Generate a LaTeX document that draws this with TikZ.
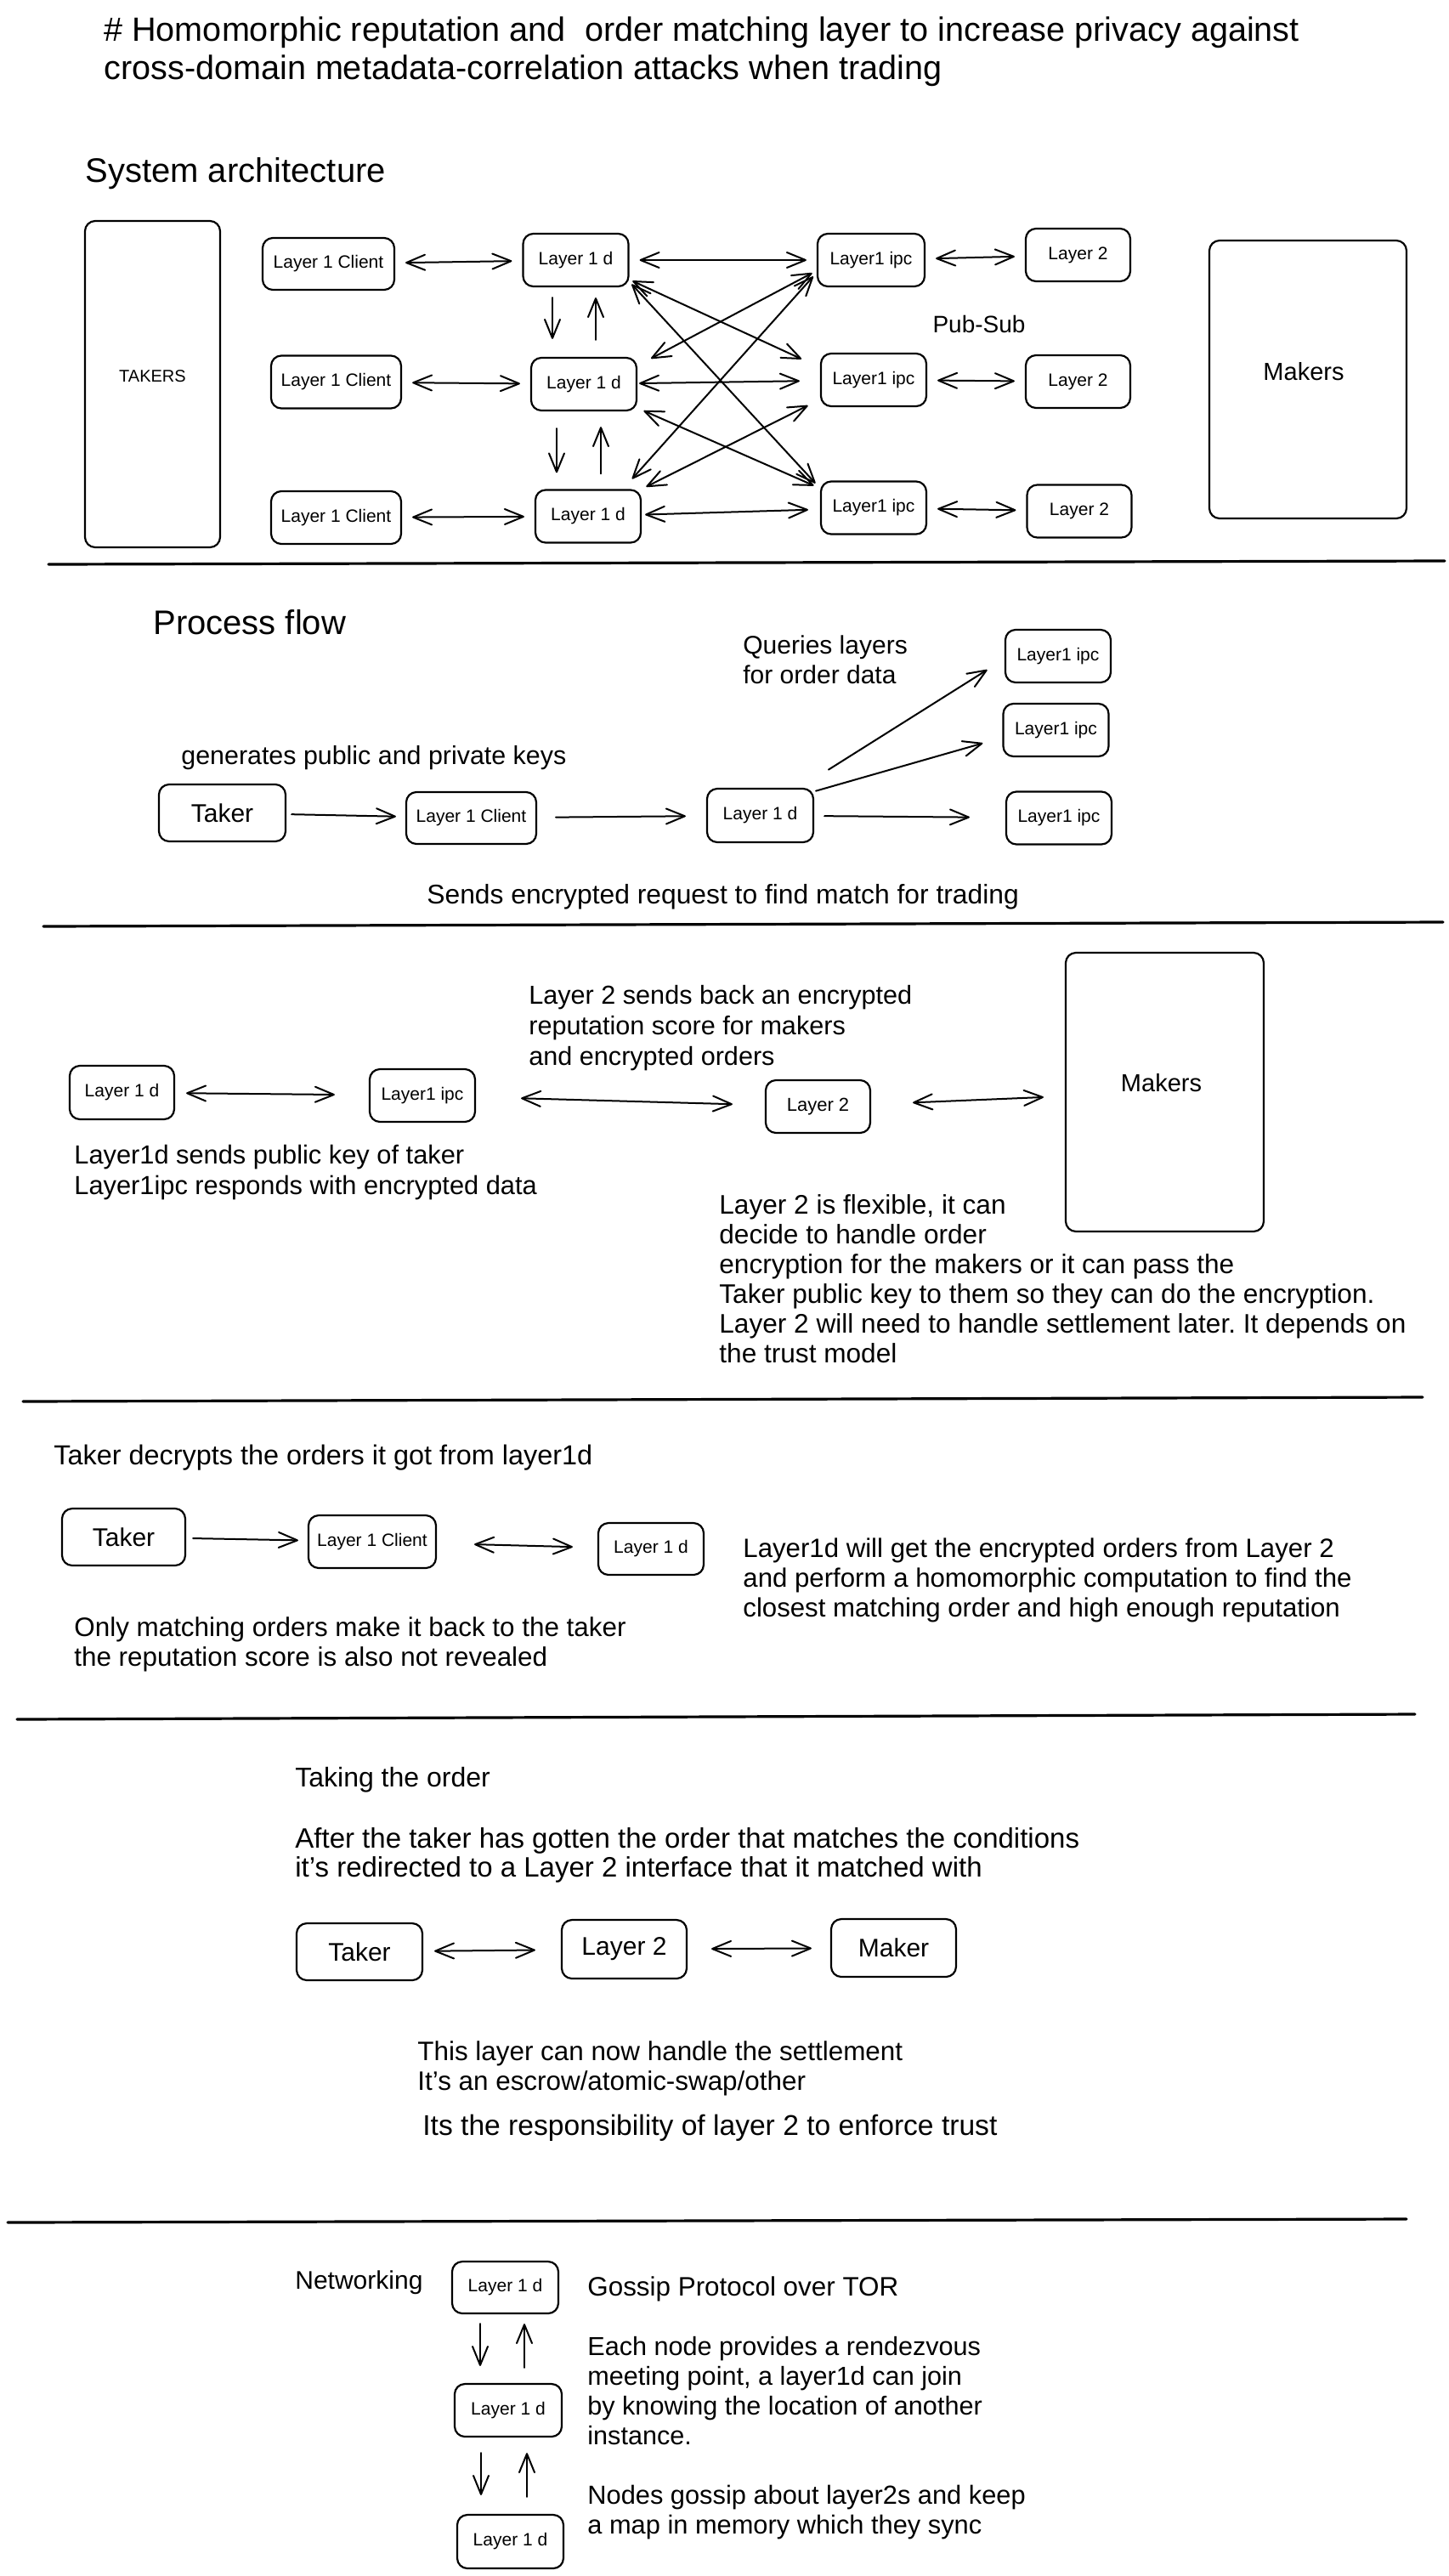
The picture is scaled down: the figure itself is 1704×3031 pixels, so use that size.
\documentclass[tikz,border=0pt]{standalone}
\usepackage{fontspec}
\setmainfont{Liberation Sans}
\usetikzlibrary{arrows.meta}
\frenchspacing
\newcommand{\fs}[1]{\fontsize{#1}{17.5pt}\selectfont}
\begin{document}
\begin{tikzpicture}[x=0.5pt,y=-0.5pt,
  >={Straight Barb[length=11pt,width=9pt,round]},
  bx/.style={draw, line width=1.1pt, rounded corners=6pt, inner sep=0pt, align=center},
  sm/.style={bx, minimum width=62pt, minimum height=31pt, font=\fontsize{10.5pt}{12pt}\selectfont},
  big/.style={bx, minimum width=74pt, minimum height=33.5pt, font=\fontsize{15pt}{18pt}\selectfont},
  txt/.style={anchor=north west, inner sep=0pt, align=left, font=\fs{15pt}},
  head/.style={anchor=north west, inner sep=0pt, align=left, font=\fontsize{20pt}{24pt}\selectfont},
  arr/.style={line width=1pt, line cap=round, ->, shorten >=6pt, shorten <=6pt},
  dbl/.style={arr, <->},
  sep/.style={line width=1.6pt, line cap=round},
]
\useasboundingbox[fill=white] (0,0) rectangle (1704,3031);

% ---------------- title
\node[anchor=north west, inner sep=0pt, align=left, font=\fontsize{19.8pt}{22.5pt}\selectfont] (title) at (122,19)
  {\# Homomorphic reputation and\ \ order matching layer to increase privacy against\\cross-domain metadata-correlation attacks when trading};

% ---------------- section 1: system architecture
\node[head] (sysarch) at (100,185) {System architecture};

\node[bx, minimum width=79.5pt, minimum height=192pt, font=\fontsize{10pt}{12pt}\selectfont] (takers) at (179.5,452) {\raisebox{9pt}{TAKERS}};
\node[sm, minimum width=77.5pt, minimum height=30.5pt] (c1) at (386.5,310.5) {Layer 1 Client};
\node[sm, minimum width=76.5pt] (c2) at (395.5,449.5) {Layer 1 Client};
\node[sm, minimum width=76.5pt] (c3) at (395.5,609) {Layer 1 Client};
\node[sm] (d1) at (677.5,306) {Layer 1 d};
\node[sm] (d2) at (687,452) {Layer 1 d};
\node[sm] (d3) at (692,607.5) {Layer 1 d};
\node[sm, minimum width=63pt] (i1) at (1025,306) {Layer1 ipc};
\node[sm] (i2) at (1028,447) {Layer1 ipc};
\node[sm] (i3) at (1028,597.5) {Layer1 ipc};
\node[sm, minimum width=61.5pt] (l1) at (1268.5,300) {Layer 2};
\node[sm, minimum width=61.5pt] (l2) at (1268.5,449) {Layer 2};
\node[sm, minimum width=61.5pt] (l3) at (1270,601.5) {Layer 2};
\node[bx, minimum width=116pt, minimum height=163.5pt, font=\fontsize{14.5pt}{17pt}\selectfont] (mk1) at (1539,446.5) {\raisebox{10pt}{Makers\hspace{5pt}}};
\node[inner sep=0pt, font=\fontsize{14pt}{17pt}\selectfont] (pubsub) at (1152,381) {Pub-Sub};

\draw[dbl] (c1) -- (d1);
\draw[dbl] (d1) -- (i1);
\draw[dbl] (i1) -- (l1);
\draw[dbl] (c2) -- (d2);
\draw[dbl, shorten <=1pt, shorten >=12pt] (d2) -- (i2);
\draw[dbl] (i2) -- (l2);
\draw[dbl] (c3) -- (d3);
\draw[dbl, shorten <=2pt, shorten >=7pt] (d3) -- (i3);
\draw[dbl] (i3) -- (l3);

\draw[dbl, shorten <=2pt, shorten >=12pt] (d1.-20) -- (i2.167);
\draw[dbl, shorten <=2pt, shorten >=4pt] (d1.-22) -- (i3.160);
\draw[dbl, shorten <=3pt, shorten >=9pt] (i1.191) -- (d2.19.5);
\draw[dbl, shorten <=3pt, shorten >=8pt] (i1.193) -- (d3.38);
\draw[dbl, shorten <=4pt, shorten >=4pt] (d2.-24) -- (i3.160);
\draw[dbl, shorten <=3pt, shorten >=8pt] (d3.27) -- (i2.200);

\draw[arr, shorten <=6pt, shorten >=10.5pt] ([xshift=-13.75pt]d1.south) -- ([xshift=-18.5pt]d2.north);
\draw[arr, shorten <=10pt, shorten >=6pt] ([xshift=7pt]d2.north) -- ([xshift=11.75pt]d1.south);
\draw[arr, shorten <=10pt, shorten >=9.5pt] ([xshift=-16pt]d2.south) -- ([xshift=-18.5pt]d3.north);
\draw[arr, shorten <=9pt, shorten >=9pt] ([xshift=7.5pt]d3.north) -- ([xshift=10pt]d2.south);

\draw[sep] (57,664) -- (1700,660);

% ---------------- section 2: process flow
\node[head] (pflow) at (180,717) {Process flow};
\node[txt] (queries) at (874,747) {Queries layers\\for order data};
\node[txt, font=\fs{15.2pt}] (genkeys) at (213,877) {generates public and private keys};
\node[txt, font=\fs{15.9pt}] (sendsreq) at (502,1040) {Sends encrypted request to find match for trading};

\node[big, minimum width=74.5pt] (pt) at (261.5,956.5) {Taker};
\node[sm, minimum width=76.5pt, minimum height=30.5pt] (pc) at (554.5,962.5) {Layer 1 Client};
\node[sm, minimum width=62.5pt, minimum height=31.5pt] (pd) at (894.5,959.5) {Layer 1 d};
\node[sm] (pi1) at (1245,772) {Layer1 ipc};
\node[sm] (pi2) at (1242.5,859) {Layer1 ipc};
\node[sm] (pi3) at (1246,962.5) {Layer1 ipc};

\draw[arr, shorten <=3pt, shorten >=5.5pt] (pt) -- (pc);
\draw[arr, shorten <=11pt, shorten >=12pt] (pc) -- (pd);
\draw[arr, shorten <=6pt, shorten >=21pt] (pd) -- (pi3);
\draw[arr, shorten <=1pt, shorten >=12pt] (pd.24) -- (pi2.188.5);
\draw[arr, shorten <=20pt, shorten >=12pt] (pd.35.6) -- (pi1.183);

\draw[sep] (51,1090) -- (1698,1085);

% ---------------- section 3
\node[txt, font=\fontsize{15.3pt}{18pt}\selectfont] (l2sends) at (622,1159) {Layer 2 sends back an encrypted\\reputation score for makers\\and encrypted orders};
\node[txt, font=\fontsize{15.4pt}{18pt}\selectfont] (l1dsends) at (87,1347) {Layer1d sends public key of taker\\Layer1ipc responds with encrypted data};
\node[txt, font=\fs{15.8pt}] (flex) at (846,1405) {Layer 2 is flexible, it can\\decide to handle order\\encryption for the makers or it can pass the\\Taker public key to them so they can do the encryption.\\Layer 2 will need to handle settlement later. It depends on\\the trust model};

\node[sm, minimum width=61.5pt, minimum height=31.5pt] (sd) at (143.5,1285.5) {Layer 1 d};
\node[sm] (si) at (497,1289) {Layer1 ipc};
\node[sm, minimum width=61.5pt, font=\fontsize{11pt}{13pt}\selectfont] (sl2) at (962.5,1302) {Layer 2};
\node[bx, minimum width=116.5pt, minimum height=164pt, font=\fontsize{14.5pt}{17pt}\selectfont] (mk2) at (1370.5,1285) {\raisebox{11pt}{Makers\hspace{4pt}}};

\draw[dbl, shorten <=6.5pt, shorten >=20pt] (sd) -- (si);
\draw[dbl, shorten <=26.5pt, shorten >=19pt] (si) -- (sl2);
\draw[dbl, shorten <=24.5pt, shorten >=12.5pt] (sl2) -- (mk2);

\draw[sep] (27,1649) -- (1674,1644);

% ---------------- section 4
\node[txt, font=\fs{16.2pt}] (decrypts) at (63,1700) {Taker decrypts the orders it got from layer1d};
\node[txt, font=\fs{15.6pt}] (willget) at (874,1809) {Layer1d will get the encrypted orders from Layer 2\\and perform a homomorphic computation to find the\\closest matching order and high enough reputation};
\node[txt, font=\fs{15.7pt}] (onlymatch) at (87,1902) {Only matching orders make it back to the taker\\the reputation score is also not revealed};

\node[big, minimum width=72.5pt] (qt) at (145.5,1808.5) {Taker};
\node[sm, minimum width=75pt] (qc) at (438,1814) {Layer 1 Client};
\node[sm, minimum height=30.5pt] (qd) at (766,1822.5) {Layer 1 d};

\draw[arr, shorten <=4pt, shorten >=5.5pt] (qt) -- (qc);
\draw[dbl, shorten <=22pt, shorten >=14.5pt] (qc) -- (qd);

\draw[sep] (20,2023) -- (1665,2017);

% ---------------- section 5
\node[txt, font=\fs{16pt}] (taking) at (347,2079) {Taking the order};
\node[txt, font=\fontsize{16.5pt}{17pt}\selectfont] (after) at (347,2150) {After the taker has gotten the order that matches the conditions\\it's redirected to a Layer 2 interface that it matched with};
\node[txt, font=\fs{15.7pt}] (thislayer) at (491,2401) {This layer can now handle the settlement\\It's an escrow/atomic-swap/other};
\node[txt, font=\fs{16.8pt}] (resp) at (497,2488) {Its the responsibility of layer 2 to enforce trust};

\node[big] (tt) at (423,2296.5) {Taker};
\node[big, minimum width=73.5pt, minimum height=34.5pt] (tl2) at (734.5,2293.5) {Layer 2};
\node[big, minimum width=73.5pt, minimum height=34pt] (tm) at (1051.5,2292) {Maker};

\draw[dbl, shorten <=6.5pt, shorten >=15pt] (tt) -- (tl2);
\draw[dbl, shorten <=14pt, shorten >=11pt] (tl2) -- (tm);

\draw[sep] (9,2615) -- (1655,2611);

% ---------------- section 6
\node[txt] (networking) at (347,2671) {Networking};
\node[txt, font=\fs{15.7pt}] (gossip) at (691,2678) {Gossip Protocol over TOR};
\node[txt, font=\fs{15.3pt}] (eachnode) at (691,2749) {Each node provides a rendezvous\\meeting point, a layer1d can join\\by knowing the location of another\\instance.};
\node[txt, font=\fs{15.4pt}] (nodesgossip) at (691,2924) {Nodes gossip about layer2s and keep\\a map in memory which they sync};

\node[sm, minimum width=62.5pt, minimum height=30.5pt] (n1) at (594.5,2691.5) {Layer 1 d};
\node[sm, minimum width=63pt] (n2) at (598,2836) {Layer 1 d};
\node[sm, minimum width=62.5pt, minimum height=31.5pt] (n3) at (600.5,2990.5) {Layer 1 d};

\draw[arr, shorten <=5.5pt, shorten >=10pt] ([xshift=-14.75pt]n1.south) -- ([xshift=-16.5pt]n2.north);
\draw[arr, shorten <=9pt, shorten >=5.5pt] ([xshift=9.5pt]n2.north) -- ([xshift=11.25pt]n1.south);
\draw[arr, shorten <=9pt, shorten >=11pt] ([xshift=-16pt]n2.south) -- ([xshift=-17.25pt]n3.north);
\draw[arr, shorten <=10pt, shorten >=9pt] ([xshift=9.75pt]n3.north) -- ([xshift=11pt]n2.south);
\end{tikzpicture}
\end{document}
